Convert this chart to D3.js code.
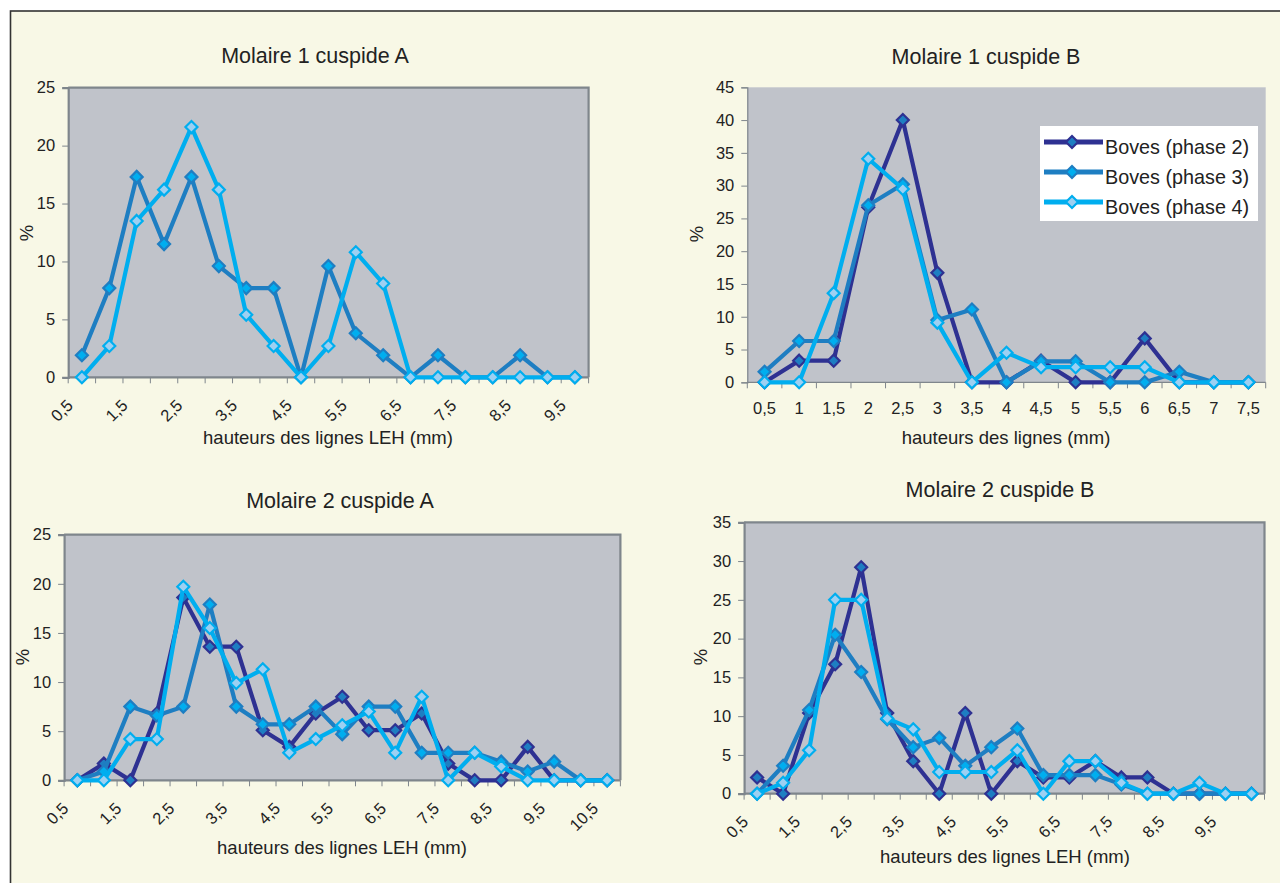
<!DOCTYPE html>
<html>
<head>
<meta charset="utf-8">
<script src="https://cdn.jsdelivr.net/npm/d3@7"></script>
<style>
  html, body { margin: 0; padding: 0; background: #ffffff; }
  svg { display: block; font-family: "Liberation Sans", Arial, sans-serif; }
</style>
</head>
<body>
<svg id="fig" width="1280" height="883"></svg>
<script>
// ---- data ---------------------------------------------------------------
const seriesNames = ["Boves (phase 2)", "Boves (phase 3)", "Boves (phase 4)"];

// Molaire 1 cuspide A
const m1aCategories = ["0,5","1","1,5","2","2,5","3","3,5","4","4,5","5","5,5","6","6,5","7","7,5","8","8,5","9","9,5"];
const m1aPhase3 = [1.9, 7.7, 17.3, 11.5, 17.3, 9.6, 7.7, 7.7, 0, 9.6, 3.8, 1.9, 0, 1.9, 0, 0, 1.9, 0, 0];
const m1aPhase4 = [0, 2.7, 13.5, 16.2, 21.6, 16.2, 5.4, 2.7, 0, 2.7, 10.8, 8.1, 0, 0, 0, 0, 0, 0, 0];
const m1aTicks = [0, 5, 10, 15, 20, 25];

// Molaire 1 cuspide B
const m1bCategories = ["0,5","1","1,5","2","2,5","3","3,5","4","4,5","5","5,5","6","6,5","7","7,5"];
const m1bPhase2 = [0, 3.3, 3.3, 26.7, 40, 16.7, 0, 0, 3.3, 0, 0, 6.7, 0, 0, 0];
const m1bPhase3 = [1.6, 6.3, 6.3, 27.0, 30.2, 9.5, 11.1, 0, 3.2, 3.2, 0, 0, 1.6, 0, 0];
const m1bPhase4 = [0, 0, 13.6, 34.1, 29.5, 9.1, 0, 4.5, 2.3, 2.3, 2.3, 2.3, 0, 0, 0];
const m1bTicks = [0, 5, 10, 15, 20, 25, 30, 35, 40, 45];

// Molaire 2 cuspide A
const m2aCategories = ["0,5","1","1,5","2","2,5","3","3,5","4","4,5","5","5,5","6","6,5","7","7,5","8","8,5","9","9,5","10","10,5"];
const m2aPhase2 = [0, 1.7, 0, 6.8, 18.6, 13.6, 13.6, 5.1, 3.4, 6.8, 8.5, 5.1, 5.1, 6.8, 1.7, 0, 0, 3.4, 0, 0, 0];
const m2aPhase3 = [0, 0.9, 7.5, 6.6, 7.5, 17.9, 7.5, 5.7, 5.7, 7.5, 4.7, 7.5, 7.5, 2.8, 2.8, 2.8, 1.9, 0.9, 1.9, 0, 0];
const m2aPhase4 = [0, 0, 4.2, 4.2, 19.7, 15.5, 9.9, 11.3, 2.8, 4.2, 5.6, 7.0, 2.8, 8.5, 0, 2.8, 1.4, 0, 0, 0, 0];
const m2aTicks = [0, 5, 10, 15, 20, 25];

// Molaire 2 cuspide B
const m2bCategories = ["0,5","1","1,5","2","2,5","3","3,5","4","4,5","5","5,5","6","6,5","7","7,5","8","8,5","9","9,5","10"];
const m2bPhase2 = [2.1, 0, 10.4, 16.7, 29.2, 10.4, 4.2, 0, 10.4, 0, 4.2, 2.1, 2.1, 4.2, 2.1, 2.1, 0, 0, 0, 0];
const m2bPhase3 = [0, 3.6, 10.8, 20.5, 15.7, 9.6, 6.0, 7.2, 3.6, 6.0, 8.4, 2.4, 2.4, 2.4, 1.2, 0, 0, 0, 0, 0];
const m2bPhase4 = [0, 1.4, 5.6, 25.0, 25.0, 9.7, 8.3, 2.8, 2.8, 2.8, 5.6, 0, 4.2, 4.2, 1.4, 0, 0, 1.4, 0, 0];
const m2bTicks = [0, 5, 10, 15, 20, 25, 30, 35];

// ---- styles -------------------------------------------------------------
const seriesStyle = [
  { line: "#2E3192", mStroke: "#2E3192", mFill: "#1E7EC2" },
  { line: "#1E7EC2", mStroke: "#1E7EC2", mFill: "#00AEEF" },
  { line: "#00AEEF", mStroke: "#00AEEF", mFill: "#9DD0F2" }
];
const PAGE_BG = "#F8F8E6";
const PLOT_BG = "#C0C3CA";
const AXIS_COL = "#7F868C";
const TEXT_COL = "#222222";

const svg = d3.select("#fig");
svg.append("rect").attr("width", 1280).attr("height", 883).attr("fill", "#ffffff");
svg.append("rect").attr("x", 10.5).attr("y", 11).attr("width", 1290).attr("height", 900)
  .attr("fill", PAGE_BG).attr("stroke", "#333333").attr("stroke-width", 1.6);

const diamond = r => `M0,${-r}L${r},0L0,${r}L${-r},0Z`;

function drawChart(cfg) {
  const g = svg.append("g");
  const x = d3.scaleBand().domain(cfg.categories).range([cfg.left, cfg.right]).padding(0);
  const y = d3.scaleLinear().domain([0, d3.max(cfg.ticks)]).range([cfg.bottom, cfg.top]);
  const cx = c => x(c) + x.bandwidth() / 2;

  g.append("rect")
    .attr("x", cfg.left).attr("y", cfg.top)
    .attr("width", cfg.right - cfg.left).attr("height", cfg.bottom - cfg.top)
    .attr("fill", PLOT_BG);

  // y axis
  const yAxis = d3.axisLeft(y).tickValues(cfg.ticks).tickSize(6).tickPadding(7).tickFormat(d3.format("d"));
  const ya = g.append("g").attr("transform", `translate(${cfg.left},0)`).call(yAxis);
  ya.select(".domain").attr("stroke", AXIS_COL).attr("stroke-width", cfg.border ? 2.2 : 1.2);
  ya.selectAll(".tick line").attr("stroke", AXIS_COL).attr("stroke-width", 1);
  ya.selectAll(".tick text").attr("fill", TEXT_COL).attr("font-size", 16.5)
    .attr("font-family", "'Liberation Sans', Arial, sans-serif");

  // x axis: ticks on category boundaries, labels at centers
  const boundaries = cfg.categories.map(c => x(c)).concat([cfg.right]);
  const xa = g.append("g");
  xa.selectAll("line.xt").data(boundaries).join("line")
    .attr("x1", d => d).attr("x2", d => d)
    .attr("y1", cfg.bottom).attr("y2", cfg.bottom + 6)
    .attr("stroke", AXIS_COL).attr("stroke-width", 1);
  xa.append("line")
    .attr("x1", cfg.left).attr("x2", cfg.right)
    .attr("y1", cfg.bottom).attr("y2", cfg.bottom)
    .attr("stroke", AXIS_COL).attr("stroke-width", cfg.border ? 2.2 : 1.2);

  const labelled = cfg.categories.filter((c, i) => i % cfg.labelEvery === 0);
  if (cfg.rotate) {
    xa.selectAll("text.xl").data(labelled).join("text")
      .attr("transform", c => `translate(${cx(c) - 12},${cfg.bottom + 25}) rotate(-45)`)
      .attr("text-anchor", "end").attr("dy", "0.35em")
      .attr("font-size", 16.5).attr("fill", TEXT_COL).text(c => c);
  } else {
    xa.selectAll("text.xl").data(labelled).join("text")
      .attr("x", c => cx(c)).attr("y", cfg.bottom + 26)
      .attr("text-anchor", "middle").attr("dy", "0.35em")
      .attr("font-size", 16.5).attr("fill", TEXT_COL).text(c => c);
  }

  // series
  const line = d3.line().x((d, i) => cx(cfg.categories[i])).y(d => y(d));
  cfg.series.forEach(s => {
    const st = seriesStyle[s.idx];
    g.append("path").datum(s.values)
      .attr("d", line).attr("fill", "none")
      .attr("stroke", st.line).attr("stroke-width", 4.2)
      .attr("stroke-linejoin", "miter").attr("stroke-miterlimit", 3);
    g.selectAll(null).data(s.values).join("path")
      .attr("transform", (d, i) => `translate(${cx(cfg.categories[i])},${y(d)})`)
      .attr("d", diamond(6))
      .attr("fill", st.mFill).attr("stroke", st.mStroke).attr("stroke-width", 2.2);
  });

  // plot frame (top and right edges)
  if (cfg.border) {
    g.append("path")
      .attr("d", `M${cfg.left},${cfg.top}H${cfg.right}V${cfg.bottom}`)
      .attr("fill", "none").attr("stroke", AXIS_COL).attr("stroke-width", 2.2);
  }

  // titles
  g.append("text").attr("x", cfg.titleX).attr("y", cfg.titleY)
    .attr("text-anchor", "middle").attr("dy", "0.35em")
    .attr("font-size", 21.5).attr("fill", TEXT_COL).text(cfg.title);
  g.append("text").attr("x", cfg.xTitleX).attr("y", cfg.xTitleY)
    .attr("text-anchor", "middle").attr("dy", "0.35em")
    .attr("font-size", 18.5).attr("fill", TEXT_COL).text(cfg.xTitle);
  g.append("text")
    .attr("transform", `translate(${cfg.yTitleX},${cfg.yTitleY}) rotate(-90)`)
    .attr("text-anchor", "middle").attr("dy", "0.35em")
    .attr("font-size", 18.5).attr("fill", TEXT_COL).text("%");

  return { g, x, y };
}

drawChart({
  categories: m1aCategories, ticks: m1aTicks,
  left: 68.2, right: 588.6, top: 87.7, bottom: 377.3,
  labelEvery: 2, rotate: true, border: true,
  series: [{ idx: 1, values: m1aPhase3 }, { idx: 2, values: m1aPhase4 }],
  title: "Molaire 1 cuspide A", titleX: 315, titleY: 55,
  xTitle: "hauteurs des lignes LEH (mm)", xTitleX: 328, xTitleY: 438,
  yTitleX: 27, yTitleY: 233
});

const m1b = drawChart({
  categories: m1bCategories, ticks: m1bTicks,
  left: 747.3, right: 1265.7, top: 87.3, bottom: 382.3,
  labelEvery: 1, rotate: false, border: false,
  series: [{ idx: 0, values: m1bPhase2 }, { idx: 1, values: m1bPhase3 }, { idx: 2, values: m1bPhase4 }],
  title: "Molaire 1 cuspide B", titleX: 986, titleY: 56,
  xTitle: "hauteurs des lignes (mm)", xTitleX: 1006, xTitleY: 438,
  yTitleX: 697, yTitleY: 234
});

drawChart({
  categories: m2aCategories, ticks: m2aTicks,
  left: 64.1, right: 620.4, top: 534.7, bottom: 780.3,
  labelEvery: 2, rotate: true, border: true,
  series: [{ idx: 0, values: m2aPhase2 }, { idx: 1, values: m2aPhase3 }, { idx: 2, values: m2aPhase4 }],
  title: "Molaire 2 cuspide A", titleX: 340, titleY: 500,
  xTitle: "hauteurs des lignes LEH (mm)", xTitleX: 342, xTitleY: 848,
  yTitleX: 22.5, yTitleY: 657
});

drawChart({
  categories: m2bCategories, ticks: m2bTicks,
  left: 744.1, right: 1264.5, top: 522.3, bottom: 793.7,
  labelEvery: 2, rotate: true, border: true,
  series: [{ idx: 0, values: m2bPhase2 }, { idx: 1, values: m2bPhase3 }, { idx: 2, values: m2bPhase4 }],
  title: "Molaire 2 cuspide B", titleX: 1000, titleY: 489,
  xTitle: "hauteurs des lignes LEH (mm)", xTitleX: 1005, xTitleY: 857,
  yTitleX: 701, yTitleY: 657
});

// legend inside the "Molaire 1 cuspide B" plot
const legend = svg.append("g").attr("transform", "translate(1040,126)");
legend.append("rect").attr("width", 218).attr("height", 95).attr("fill", "#ffffff");
seriesNames.forEach((name, i) => {
  const st = seriesStyle[i];
  const ly = 16 + i * 30;
  legend.append("line").attr("x1", 4).attr("x2", 63).attr("y1", ly).attr("y2", ly)
    .attr("stroke", st.line).attr("stroke-width", 5);
  legend.append("path").attr("transform", `translate(32,${ly})`).attr("d", diamond(6))
    .attr("fill", st.mFill).attr("stroke", st.mStroke).attr("stroke-width", 2.2);
  legend.append("text").attr("x", 65).attr("y", ly + 11.5)
    .attr("font-size", 19.8).attr("fill", TEXT_COL).text(name);
});
</script>
</body>
</html>
